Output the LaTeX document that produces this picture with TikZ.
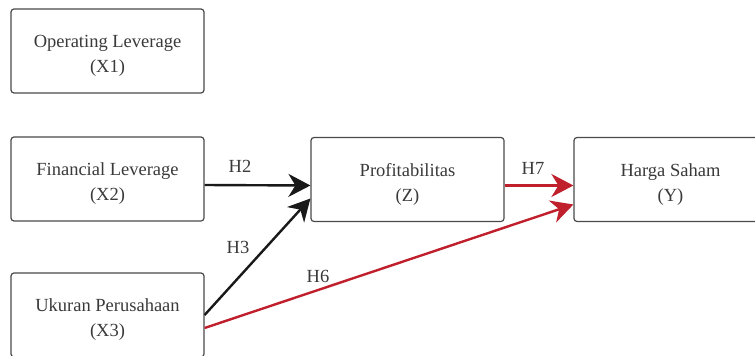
\documentclass[tikz,border=0pt]{standalone}
\usepackage{fontspec}
\setmainfont{Liberation Serif}
\usetikzlibrary{arrows.meta}
\definecolor{txt}{HTML}{3A3A3A}
\definecolor{edge}{HTML}{4A4A4A}
\definecolor{hred}{HTML}{C01F2C}
\tikzset{
  varbox/.style={draw=edge, line width=1.2pt, rounded corners=3pt, minimum width=193pt, minimum height=84pt, inner sep=0pt, align=center, text=txt, font=\fontsize{18.5}{25}\selectfont, text height=48pt, text depth=5pt},
  blackarrow/.style={draw=black!90, line width=2.4pt, -{Stealth[length=22pt,width=23pt,inset=7pt]}},
  redarrow/.style={draw=hred, line width=2.4pt, -{Stealth[length=22pt,width=23pt,inset=7pt]}},
  hlabel/.style={text=txt, font=\fontsize{18.5}{22}\selectfont, inner sep=0pt}
}
\begin{document}
\begin{tikzpicture}[x=1pt,y=-1pt]
\useasboundingbox (0,0) rectangle (755,356);
\fill[white] (0,0) rectangle (755,356);
\node[varbox] (X1) at (107.5,51) {Operating Leverage\\(X1)};
\node[varbox] (X2) at (107.5,179) {Financial Leverage\\(X2)};
\node[varbox] (X3) at (107.5,315) {Ukuran Perusahaan\\(X3)};
\node[varbox] (Z) at (407.5,179.5) {Profitabilitas\\(Z)};
\node[varbox] (Y) at (670.5,179.5) {Harga Saham\\(Y)};
\draw[blackarrow] ([yshift=-6pt]X2.east) -- ([yshift=-6pt]Z.west);
\draw[blackarrow] (X3.east) -- ([yshift=-19pt]Z.west);
\draw[redarrow] ([yshift=-13pt]X3.east) -- ([yshift=-25pt]Y.west);
\draw[redarrow] ([yshift=-6pt]Z.east) -- ([yshift=-6pt]Y.west);
\node[hlabel] (h2) at (240,166) {H2};
\node[hlabel] (h3) at (238,247) {H3};
\node[hlabel] (h6) at (318,276) {H6};
\node[hlabel] (h7) at (533,168) {H7};
\end{tikzpicture}
\end{document}
